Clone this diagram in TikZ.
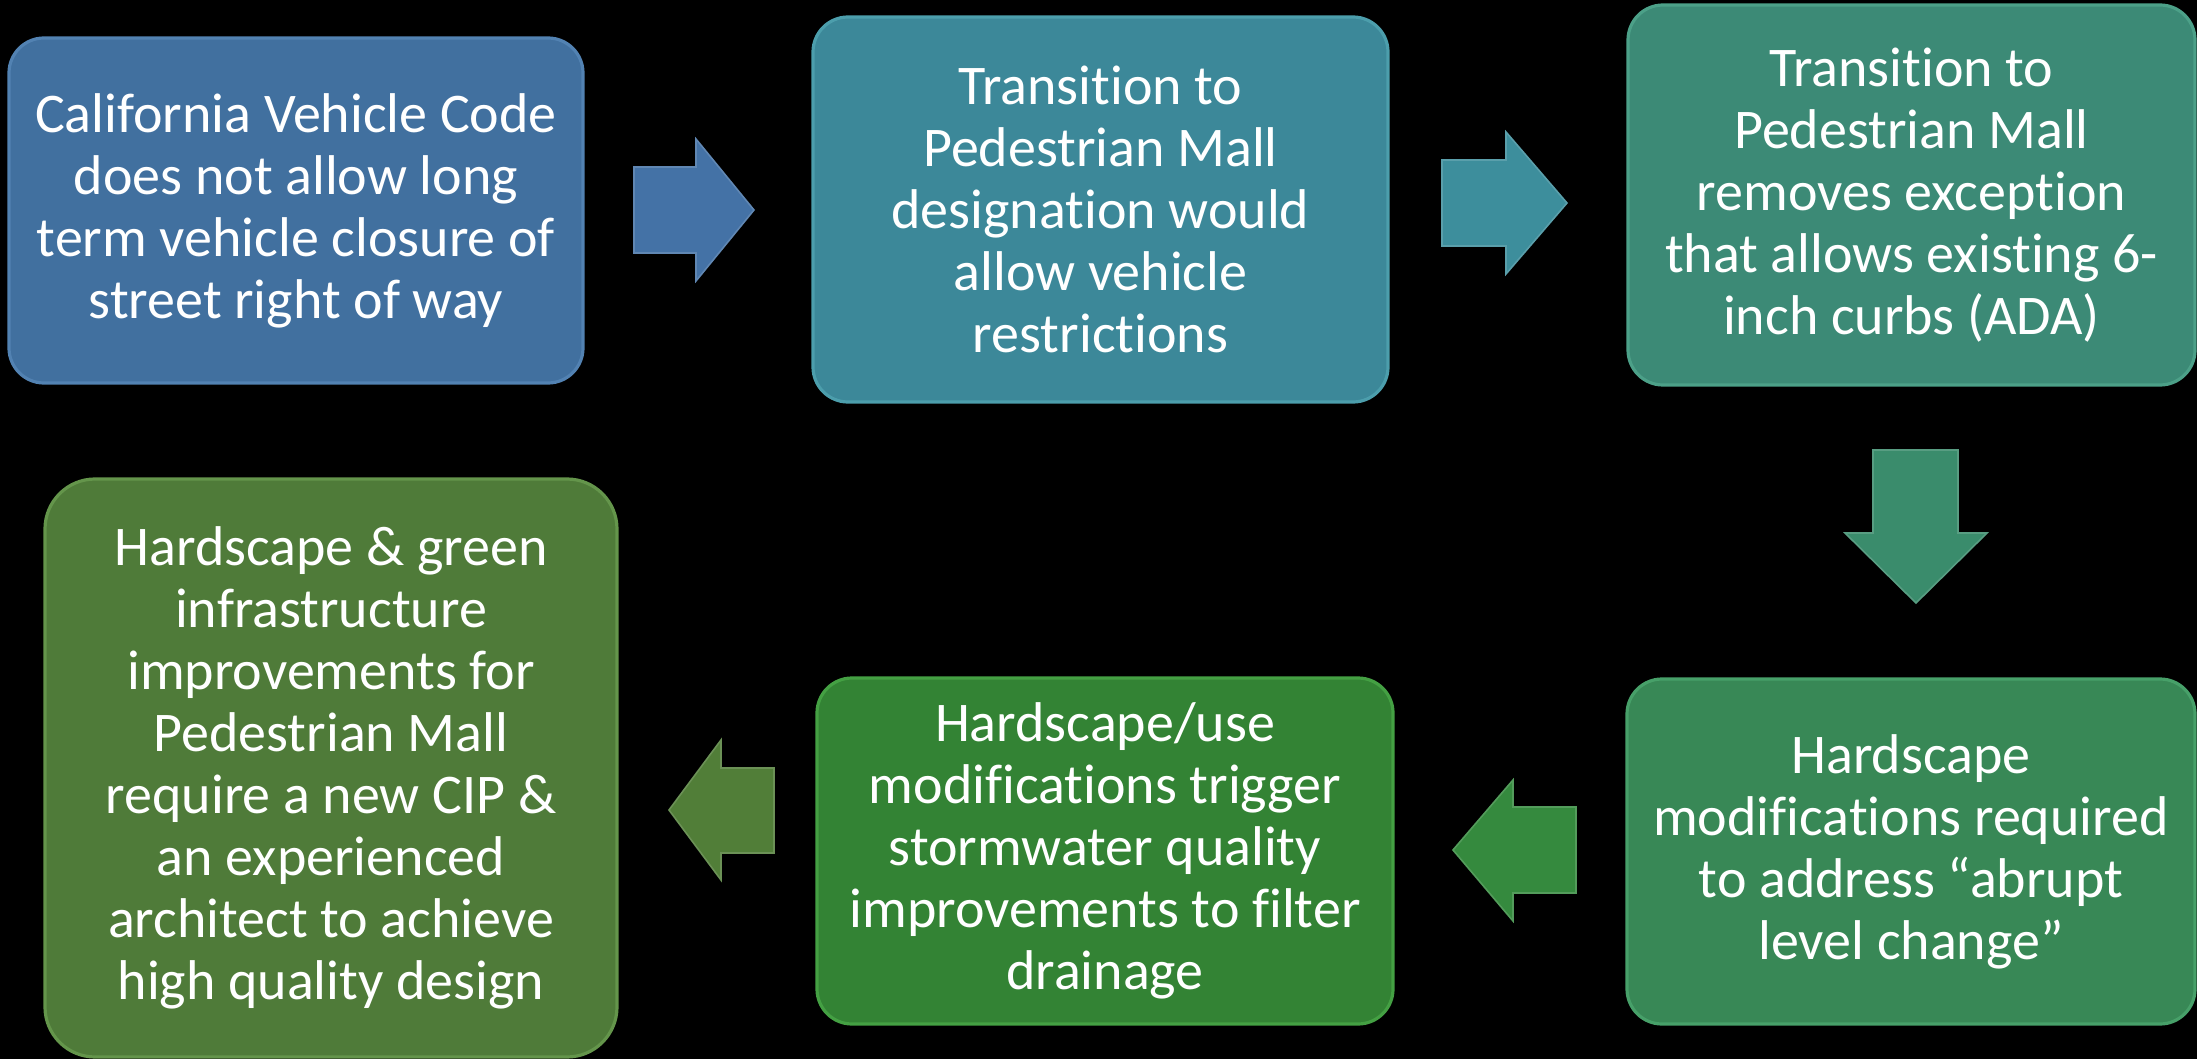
\documentclass[tikz,border=0pt]{standalone}
\usepackage{fontspec}
\setmainfont{Carlito}[Ligatures=NoCommon]
\definecolor{bxA}{HTML}{41709F}\definecolor{bxAe}{HTML}{5282B2}
\definecolor{bxB}{HTML}{3C8899}\definecolor{bxBe}{HTML}{4C9EAC}
\definecolor{bxC}{HTML}{3C8A76}\definecolor{bxCe}{HTML}{4CA088}
\definecolor{bxD}{HTML}{388856}\definecolor{bxDe}{HTML}{47A069}
\definecolor{bxE}{HTML}{338334}\definecolor{bxEe}{HTML}{44A043}
\definecolor{bxF}{HTML}{4F7B39}\definecolor{bxFe}{HTML}{64954B}
\definecolor{arA}{HTML}{4472A6}\definecolor{arB}{HTML}{3D8E9C}
\definecolor{arC}{HTML}{3A8C6C}\definecolor{arD}{HTML}{358A3E}
\definecolor{arE}{HTML}{517E38}
\tikzset{
  stepbox/.style={rectangle, rounded corners=17.5pt, line width=1.6pt, inner sep=0pt,
    align=center, text=white, font=\fontsize{28pt}{31pt}\selectfont},
  blockarrow/.style={line width=0.8pt, line join=miter}
}
\begin{document}
\begin{tikzpicture}[x=0.5pt,y=-0.5pt]
\fill[black] (0,0) rectangle (2197,1059);
\useasboundingbox (0,0) rectangle (2197,1059);
% boxes
\node[stepbox, fill=bxA, draw=bxAe, minimum width=287pt, minimum height=172.5pt] (b1) at (296,210.5)
  {California Vehicle Code\\does not allow long\\term vehicle closure of\\street right of way};
\node[stepbox, fill=bxB, draw=bxBe, minimum width=287.5pt, minimum height=192.5pt] (b2) at (1100.5,209.5)
  {Transition to\\Pedestrian Mall\\designation would\\allow vehicle\\restrictions};
\node[stepbox, fill=bxC, draw=bxCe, minimum width=283.5pt, minimum height=190pt] (b3) at (1911.5,195)
  {Transition to\\Pedestrian Mall\\removes exception\\that allows existing 6-\\inch curbs (ADA)};
\node[stepbox, fill=bxD, draw=bxDe, minimum width=284pt, minimum height=172.5pt] (b4) at (1911,851.5)
  {Hardscape\\modifications required\\to address “abrupt\\level change”};
\node[stepbox, fill=bxE, draw=bxEe, minimum width=288pt, minimum height=173pt] (b5) at (1105,851)
  {Hardscape/use\\modifications trigger\\stormwater quality\\improvements to filter\\drainage};
\node[stepbox, rounded corners=25pt, fill=bxF, draw=bxFe, minimum width=286pt, minimum height=289pt] (b6) at (331,768)
  {Hardscape \& green\\infrastructure\\improvements for\\Pedestrian Mall\\require a new CIP \&\\an experienced\\architect to achieve\\high quality design};
% block arrows
\filldraw[blockarrow, fill=arA, draw=arA!85!white] (634,167) -- (696,167) -- (696,139) -- (754,210) -- (696,281) -- (696,253) -- (634,253) -- cycle;
\filldraw[blockarrow, fill=arB, draw=arB!85!white] (1442,160) -- (1506,160) -- (1506,132) -- (1567,203) -- (1506,274) -- (1506,246) -- (1442,246) -- cycle;
\filldraw[blockarrow, fill=arC, draw=arC!85!white] (1873,450) -- (1958,450) -- (1958,533) -- (1987,533) -- (1916,603) -- (1845,533) -- (1873,533) -- cycle;
\filldraw[blockarrow, fill=arD, draw=arD!85!white] (1576,807) -- (1513,807) -- (1513,780) -- (1453,850) -- (1513,921) -- (1513,893) -- (1576,893) -- cycle;
\filldraw[blockarrow, fill=arE, draw=arE!85!white] (774,768) -- (721,768) -- (721,740) -- (669,810) -- (721,880) -- (721,853) -- (774,853) -- cycle;
\end{tikzpicture}
\end{document}
